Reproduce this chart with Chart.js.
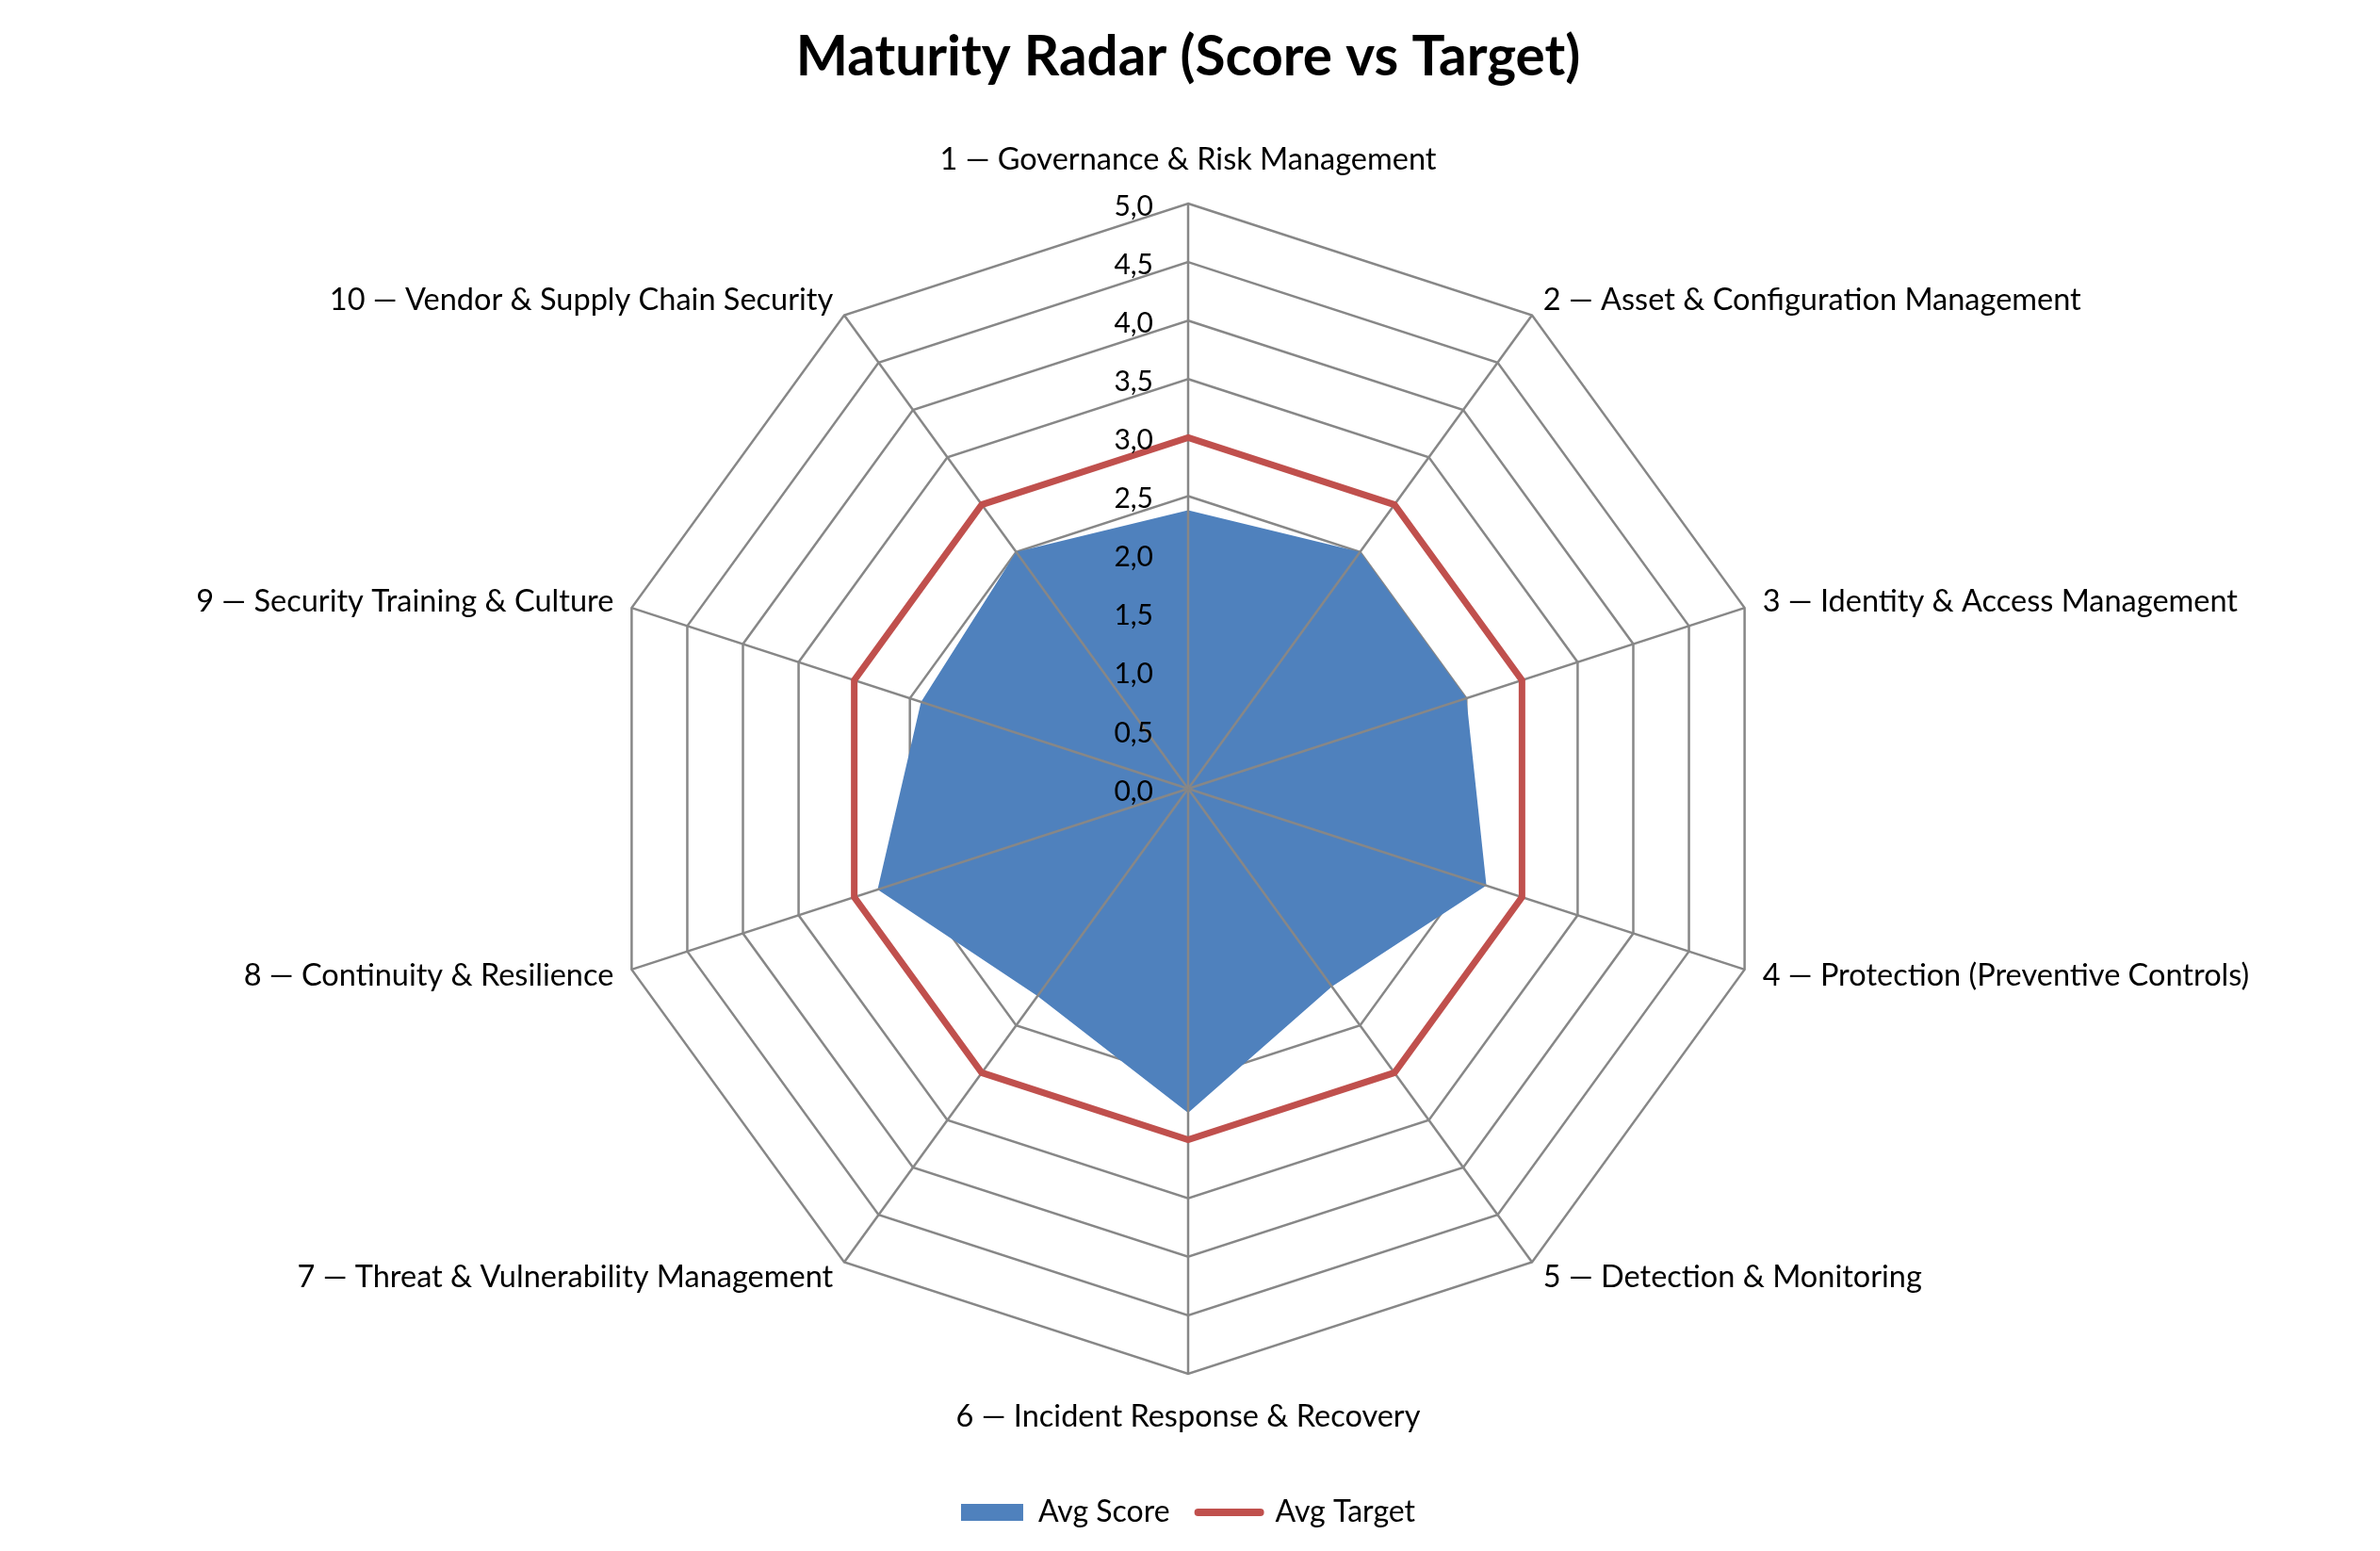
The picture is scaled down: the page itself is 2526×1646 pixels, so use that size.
<!DOCTYPE html>
<html>
<head>
<meta charset="utf-8">
<title>Maturity Radar</title>
<script src="https://cdn.jsdelivr.net/npm/chart.js@4/dist/chart.umd.min.js"></script>
<style>
  html, body { margin: 0; padding: 0; background: #fff; }
  #wrap { width: 2526px; height: 1646px; }
</style>
</head>
<body>
<div id="wrap"><canvas id="radar"></canvas></div>
<script>
const categories = [
  "1 — Governance & Risk Management",
  "2 — Asset & Configuration Management",
  "3 — Identity & Access Management",
  "4 — Protection (Preventive Controls)",
  "5 — Detection & Monitoring",
  "6 — Incident Response & Recovery",
  "7 — Threat & Vulnerability Management",
  "8 — Continuity & Resilience",
  "9 — Security Training & Culture",
  "10 — Vendor & Supply Chain Security"
];
const avgScore = [2.38, 2.5, 2.5, 2.68, 2.09, 2.77, 2.19, 2.79, 2.4, 2.5];
const avgTarget = [3, 3, 3, 3, 3, 3, 3, 3, 3, 3];
const tickLabels = ["0,0", "0,5", "1,0", "1,5", "2,0", "2,5", "3,0", "3,5", "4,0", "4,5", "5,0"];

const FONT = "Lato";
const BLUE = "#4F81BD";
const RED = "#C0504D";
const GRID = "#878787";

// spokes over the blue fill, ticks and category labels on top
const radarText = {
  id: "radarText",
  beforeDatasetDraw(chart, args) {
    if (args.index !== 1) return;
    const r = chart.scales.r;
    const ctx = chart.ctx;
    ctx.save();
    ctx.strokeStyle = GRID;
    ctx.lineWidth = 2.5;
    for (let i = 0; i < categories.length; i++) {
      const p = r.getPointPosition(i, r.drawingArea);
      ctx.beginPath();
      ctx.moveTo(r.xCenter, r.yCenter);
      ctx.lineTo(p.x, p.y);
      ctx.stroke();
    }
    ctx.restore();
  },
  afterDatasetsDraw(chart) {
    const r = chart.scales.r;
    const ctx = chart.ctx;
    ctx.save();
    ctx.fillStyle = "#000";
    ctx.textBaseline = "middle";

    // tick labels, left of the first spoke
    ctx.font = `30px ${FONT}`;
    ctx.textAlign = "right";
    r.ticks.forEach((t, i) => {
      const y = r.yCenter - r.getDistanceFromCenterForValue(t.value) + 3;
      ctx.fillText(tickLabels[i], r.xCenter - 37, y);
    });

    // category labels
    ctx.font = `32.5px ${FONT}`;
    categories.forEach((lab, i) => {
      const top = i === 0 || i === 5;
      const p = r.getPointPosition(i, r.drawingArea + (top ? 46 : 20));
      ctx.textAlign = top ? "center" : (i < 5 ? "left" : "right");
      ctx.fillText(lab, p.x, p.y);
    });
    ctx.restore();
  }
};

const ctx = document.getElementById("radar");
new Chart(ctx, {
  type: "radar",
  data: {
    labels: categories,
    datasets: [{
      label: "Avg Score",
      data: avgScore,
      backgroundColor: BLUE,
      borderColor: BLUE,
      borderWidth: 0,
      fill: true,
      pointRadius: 0,
      order: 1
    }, {
      label: "Avg Target",
      data: avgTarget,
      borderColor: RED,
      backgroundColor: "rgba(0,0,0,0)",
      borderWidth: 7,
      borderJoinStyle: "miter",
      fill: false,
      pointRadius: 0,
      order: 0
    }]
  },
  options: {
    responsive: true,
    maintainAspectRatio: false,
    animation: false,
    layout: { padding: { top: 0, bottom: 15, left: 0, right: 4 } },
    scales: {
      r: {
        min: 0,
        max: 5,
        ticks: { stepSize: 0.5, display: false },
        grid: { color: GRID, lineWidth: 2.5 },
        angleLines: { display: false },
        pointLabels: { display: false }
      }
    },
    plugins: {
      tooltip: { enabled: false },
      title: {
        display: true,
        text: "Maturity Radar (Score vs Target)",
        color: "#000",
        font: { family: FONT, size: 58.5, weight: "bold" },
        padding: { top: 26, bottom: 119 }
      },
      legend: {
        position: "bottom",
        title: { display: true, text: " ", font: { size: 1 }, padding: { top: 98.8, bottom: 0 } },
        labels: {
          usePointStyle: true,
          pointStyleWidth: 66,
          boxHeight: 18,
          padding: 30,
          color: "#000",
          font: { family: FONT, size: 32 },
          generateLabels(chart) {
            return chart.data.datasets.map((ds, i) => ({
              text: ds.label,
              datasetIndex: i,
              fillStyle: i === 0 ? BLUE : "rgba(0,0,0,0)",
              strokeStyle: i === 0 ? BLUE : RED,
              lineWidth: i === 0 ? 0 : 8,
              lineCap: "round",
              pointStyle: i === 0 ? "rect" : "line",
              fontColor: "#000",
              hidden: false
            }));
          }
        }
      }
    }
  },
  plugins: [radarText]
});
</script>
</body>
</html>
